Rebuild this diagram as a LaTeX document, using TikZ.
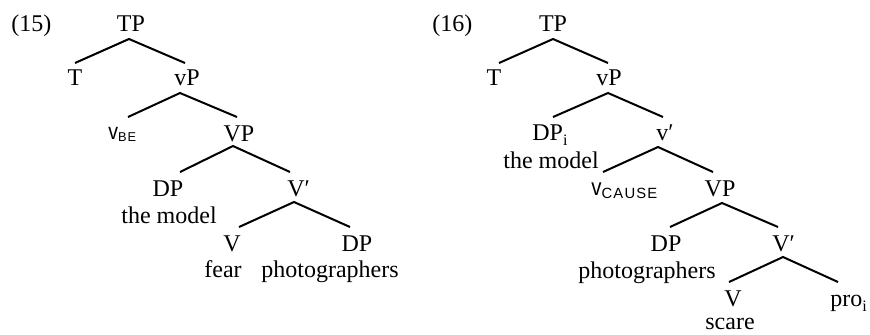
\documentclass[tikz,border=0pt]{standalone}
\usepackage{fontspec}
\setmainfont{Liberation Serif}
\newfontfamily\vsans[FakeStretch=0.85]{Liberation Sans}
\newfontfamily\capsans[LetterSpace=8]{Liberation Sans}
\newcommand{\idx}{\raisebox{-2.5pt}{\fontsize{8}{8}\selectfont i}}
\begin{document}
\begin{tikzpicture}[x=0.5pt,y=-0.5pt,
  lbl/.style={inner sep=0pt,anchor=base,font=\fontsize{12}{14}\selectfont},
  lblw/.style={lbl,anchor=base west},
  branch/.style={line width=1pt}]
\useasboundingbox (0,0) rectangle (870,334);

% ---------- tree (15) ----------
\node[lblw] (n15) at (11,31) {(15)};
\node[lbl] (TPa) at (131,31) {TP};
\node[lbl] (Ta) at (75,85) {T};
\node[lbl] (vPa) at (187,85) {vP};
\node[lblw] (vbe) at (108,139) {{\fontsize{11.5}{12}\vsans v}\raisebox{-1pt}{\fontsize{6.4}{7}\capsans BE}};
\node[lbl] (VPa) at (239,141) {VP};
\node[lbl] (DPa) at (168,196) {DP};
\node[lbl] (modela) at (169,223) {the model};
\node[lblw] (Vbara) at (287,196) {V′};
\node[lbl] (Va) at (232,251) {V};
\node[lbl] (feara) at (223,277) {fear};
\node[lbl] (DPb) at (357,251) {DP};
\node[lbl] (photoa) at (330,277) {photographers};

\coordinate (TPa-s) at (129,39);
\coordinate (Ta-n) at (75,63);
\coordinate (vPa-n) at (185,63);
\coordinate (vPa-s) at (180,93);
\coordinate (vbe-n) at (128,117);
\coordinate (VPa-n) at (237,117);
\coordinate (VPa-s) at (233,146);
\coordinate (DPa-n) at (180,172);
\coordinate (Vbara-n) at (290,172);
\coordinate (Vbara-s) at (294,202);
\coordinate (Va-n) at (239,227);
\coordinate (DPb-n) at (350,227);

\draw[branch] (Ta-n) -- (TPa-s) -- (vPa-n);
\draw[branch] (vbe-n) -- (vPa-s) -- (VPa-n);
\draw[branch] (DPa-n) -- (VPa-s) -- (Vbara-n);
\draw[branch] (Va-n) -- (Vbara-s) -- (DPb-n);

% ---------- tree (16) ----------
\node[lblw] (n16) at (432,31) {(16)};
\node[lbl] (TPb) at (553,31) {TP};
\node[lbl] (Tb) at (494,85) {T};
\node[lbl] (vPb) at (609,85) {vP};
\node[lblw] (DPi) at (532,140) {DP\idx};
\node[lbl] (modelb) at (551,168) {the model};
\node[lblw] (vbar) at (656,140) {v′};
\node[lblw] (vcause) at (591,195) {{\fontsize{12}{12}\vsans v}\raisebox{-1.5pt}{\fontsize{7.4}{8}\capsans CAUSE}};
\node[lbl] (VPb) at (720,196) {VP};
\node[lbl] (DPc) at (666,251) {DP};
\node[lbl] (photob) at (647,278) {photographers};
\node[lblw] (Vbarb) at (772,251) {V′};
\node[lbl] (Vb) at (733,306) {V};
\node[lbl] (scare) at (730,329) {scare};
\node[lblw] (pro) at (830,306) {pro\idx};

\coordinate (TPb-s) at (553,39);
\coordinate (Tb-n) at (499,63);
\coordinate (vPb-n) at (608,63);
\coordinate (vPb-s) at (608,93);
\coordinate (DPi-n) at (553,117);
\coordinate (vbar-n) at (663,117);
\coordinate (vbar-s) at (658,147);
\coordinate (vcause-n) at (603,172);
\coordinate (VPb-n) at (713,172);
\coordinate (VPb-s) at (722,203);
\coordinate (DPc-n) at (670,227);
\coordinate (Vbarb-n) at (778,227);
\coordinate (Vbarb-s) at (783,257);
\coordinate (Vb-n) at (729,282);
\coordinate (pro-n) at (838,282);

\draw[branch] (Tb-n) -- (TPb-s) -- (vPb-n);
\draw[branch] (DPi-n) -- (vPb-s) -- (vbar-n);
\draw[branch] (vcause-n) -- (vbar-s) -- (VPb-n);
\draw[branch] (DPc-n) -- (VPb-s) -- (Vbarb-n);
\draw[branch] (Vb-n) -- (Vbarb-s) -- (pro-n);
\end{tikzpicture}
\end{document}
